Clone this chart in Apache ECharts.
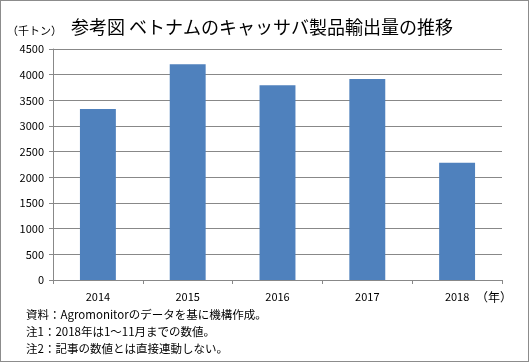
<!DOCTYPE html>
<html><head><meta charset="utf-8">
<script src="https://cdn.jsdelivr.net/npm/echarts@6/dist/echarts.min.js"></script>
<style>html,body{margin:0;padding:0;background:#fff}#c{width:529px;height:362px;box-sizing:border-box;border:1px solid #8c8c8c}</style>
</head><body><div id="c"></div>
<script>
var titleText = '参考図 ベトナムのキャッサバ製品輸出量の推移';
var unitText = '（千トン）';
var yearUnit = '（年）';
var categories = ['2014', '2015', '2016', '2017', '2018'];
var values = [3330, 4205, 3795, 3915, 2285];
var yTicks = [0, 500, 1000, 1500, 2000, 2500, 3000, 3500, 4000, 4500];
var notes = ['資料：Agromonitorのデータを基に機構作成。', '注1：2018年は1～11月までの数値。', '注2：記事の数値とは直接連動しない。'];

var font = '"Noto Sans CJK JP", sans-serif';
var chart = echarts.init(document.getElementById('c'), null, {renderer: 'canvas'});
chart.setOption({
  animation: false,
  textStyle: {fontFamily: font},
  title: {
    text: titleText, left: 65, top: 12,
    textStyle: {fontFamily: font, fontSize: 18, fontWeight: 'normal', color: '#000'}
  },
  grid: {left: 52, right: 26, top: 48, bottom: 81, containLabel: false},
  xAxis: {
    type: 'category', data: categories,
    axisLine: {lineStyle: {color: '#888', width: 1}},
    axisTick: {show: true, alignWithLabel: false, length: 4, lineStyle: {color: '#888'}},
    axisLabel: {color: '#000', fontSize: 11, margin: 11, fontFamily: font}
  },
  yAxis: {
    type: 'value', min: yTicks[0], max: yTicks[yTicks.length - 1], interval: 500,
    axisLine: {show: true, lineStyle: {color: '#888', width: 1}},
    axisTick: {show: true, length: 4, lineStyle: {color: '#888'}},
    axisLabel: {color: '#000', fontSize: 11, margin: 9, fontFamily: font,
      formatter: function (v) { return String(v); }},
    splitLine: {lineStyle: {color: '#888', width: 1}}
  },
  series: [{
    type: 'bar', data: values, barWidth: '40%',
    itemStyle: {color: '#4f81bd'}
  }],
  graphic: [
    {type: 'text', left: 6, top: 24, style: {text: unitText, font: '11px ' + font, fill: '#000'}},
    {type: 'text', left: 475, top: 290, style: {text: yearUnit, font: '12px ' + font, fill: '#000'}},
    {type: 'text', left: 25, top: 308, style: {text: notes[0], font: '11.5px ' + font, fill: '#000'}},
    {type: 'text', left: 25, top: 325, style: {text: notes[1], font: '11.5px ' + font, fill: '#000'}},
    {type: 'text', left: 25, top: 342, style: {text: notes[2], font: '11.5px ' + font, fill: '#000'}}
  ]
});
</script></body></html>
